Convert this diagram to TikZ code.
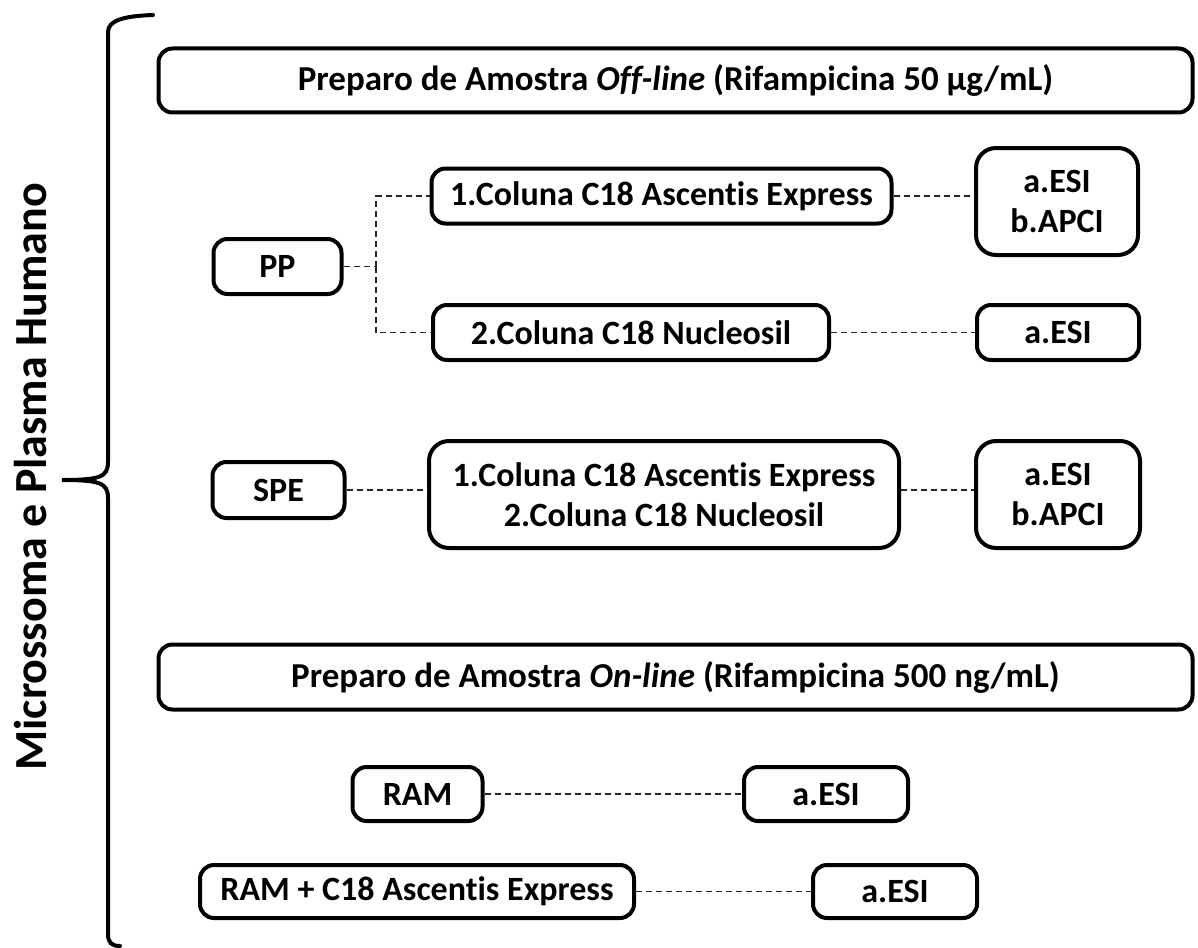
\documentclass[tikz,border=0pt]{standalone}
\usepackage{fontspec}
\setmainfont{Carlito}[RawFeature=-liga]
\begin{document}
\begin{tikzpicture}[x=0.5pt,y=-0.5pt,
  box/.style={draw, line width=2pt, rounded corners=7pt, align=center, inner sep=0pt,
    font=\bfseries\fontsize{17}{20}\selectfont},
  titlebox/.style={box, font=\bfseries\fontsize{17.5}{20}\selectfont},
  bigbox/.style={box, rounded corners=10pt},
  link/.style={draw=black!85, line width=0.6pt, dash pattern=on 3pt off 2pt},
  bracestyle/.style={line width=2pt, line cap=round}]
\useasboundingbox (0,0) rectangle (1198,947);

% brace
\draw[bracestyle] (153,15) .. controls (125,16) and (108,20) .. (108,32) -- (108,462)
  .. controls (108,477) and (100,480) .. (62,480)
  .. controls (100,480) and (108,483) .. (108,498) -- (108,934)
  .. controls (108,943) and (112,946) .. (120,946);
\node[rotate=90, font=\bfseries\fontsize{23}{26}\selectfont] (lbl) at (31,477) {Microssoma e Plasma Humano};

% off-line
\node[titlebox, minimum width=517pt, minimum height=32pt] (off) at (675.5,80.5)
  {Preparo de Amostra \textit{Off-line} (Rifampicina 50 µg/mL)};
\node[box, minimum width=64pt, minimum height=27.5pt] (pp) at (277.5,266.5) {PP};
\node[box, minimum width=230pt, minimum height=27.5pt] (c1) at (661.5,196) {1.Coluna C18 Ascentis Express};
\node[box, minimum width=198pt, minimum height=27.5pt] (c2) at (631,332.5) {2.Coluna C18 Nucleosil};
\node[bigbox, minimum width=81pt, minimum height=53.5pt] (e1) at (1057,201.5) {a.ESI\\b.APCI};
\node[box, minimum width=81pt, minimum height=27.5pt] (e2) at (1058,332.5) {a.ESI};

\coordinate (split) at (376,266.5);
\draw[link] (pp.east) -- (split);
\draw[link] (split) |- (c1.west);
\draw[link] (split) |- (c2.west);
\draw[link] (c1.east) -- (c1.east -| e1.west);
\draw[link] (c2.east) -- (e2.west);

\node[box, minimum width=66pt, minimum height=28pt] (spe) at (278.5,490) {SPE};
\node[bigbox, minimum width=235pt, minimum height=53.5pt] (spec) at (664,494.5) {1.Coluna C18 Ascentis Express\\2.Coluna C18 Nucleosil};
\node[bigbox, minimum width=82pt, minimum height=53.5pt] (e3) at (1058,494.5) {a.ESI\\b.APCI};
\draw[link] (spe.east) -- (spe.east -| spec.west);
\draw[link] (spe.east -| spec.east) -- (spe.east -| e3.west);

% on-line
\node[titlebox, minimum width=517pt, minimum height=32.5pt] (on) at (675.5,677)
  {Preparo de Amostra \textit{On-line} (Rifampicina 500 ng/mL)};
\node[box, minimum width=65pt, minimum height=27pt] (ram) at (417.5,794) {RAM};
\node[box, minimum width=82pt, minimum height=27pt] (e4) at (826,794) {a.ESI};
\node[box, minimum width=217pt, minimum height=26.5pt] (ramc) at (417,891.5) {RAM + C18 Ascentis Express};
\node[box, minimum width=82pt, minimum height=26.5pt] (e5) at (895,891.5) {a.ESI};
\draw[link] (ram.east) -- (e4.west);
\draw[link] (ramc.east) -- (e5.west);
\end{tikzpicture}
\end{document}
